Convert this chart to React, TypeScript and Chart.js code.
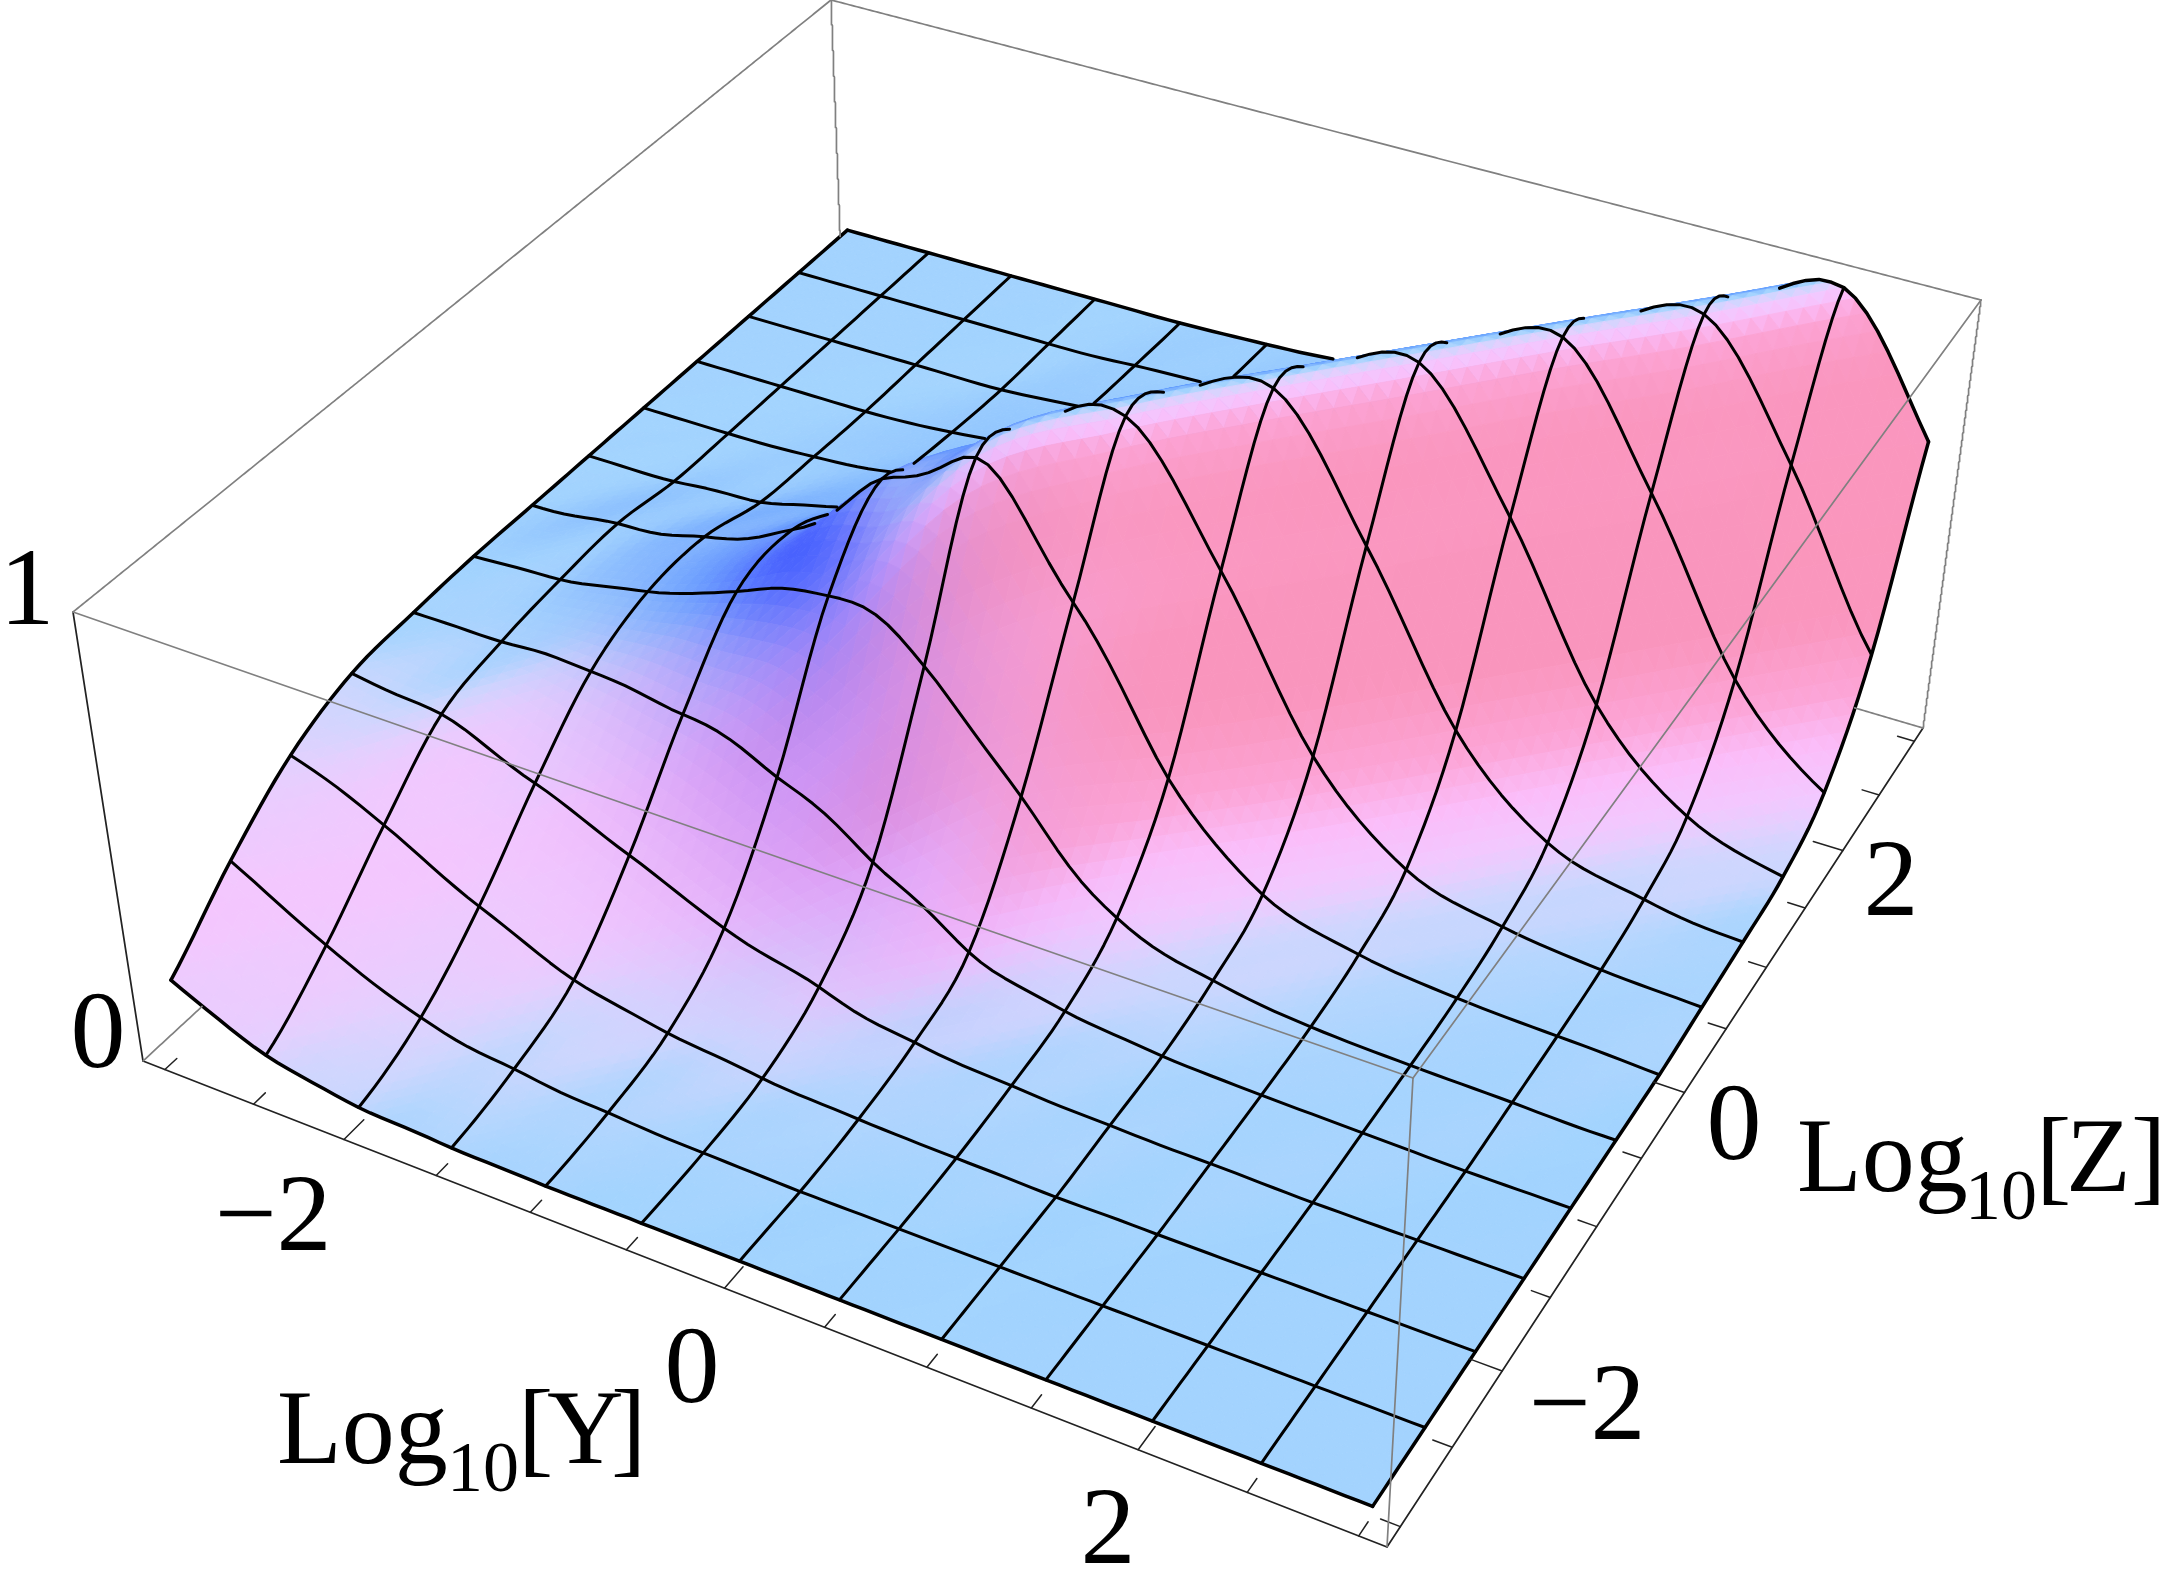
import React, { useEffect, useRef } from "react";
import { Chart, registerables } from "chart.js";

Chart.register(...registerables);

// Surface height: one array per Log10[Z] grid line, Log10[Y] = -3 ... 3 by 0.5
const heightZm30 = [0.15, 0.055, 0.015, 0.004, 0, 0, 0, 0, 0, 0, 0, 0, 0];
const heightZm25 = [0.285, 0.165, 0.075, 0.035, 0.015, 0.005, 0, 0, 0, 0, 0, 0, 0];
const heightZm20 = [0.395, 0.305, 0.19, 0.095, 0.05, 0.025, 0.012, 0.005, 0, 0, 0, 0, 0];
const heightZm15 = [0.455, 0.43, 0.34, 0.245, 0.15, 0.09, 0.04, 0.02, 0.01, 0.005, 0, 0, 0];
const heightZm10 = [0.47, 0.47, 0.47, 0.44, 0.365, 0.24, 0.105, 0.045, 0.02, 0.01, 0.005, 0, 0];
const heightZm05 = [0.478, 0.49, 0.53, 0.6, 0.66, 0.565, 0.33, 0.12, 0.05, 0.02, 0.01, 0.005, 0];
const heightZ00 = [0.478, 0.5, 0.535, 0.62, 0.81, 0.93, 0.655, 0.31, 0.11, 0.045, 0.02, 0.01, 0];
const heightZ05 = [0.478, 0.48, 0.495, 0.55, 0.69, 0.87, 0.97, 0.67, 0.3, 0.105, 0.045, 0.02, 0.01];
const heightZ10 = [0.478, 0.478, 0.485, 0.51, 0.585, 0.715, 0.9, 0.98, 0.67, 0.3, 0.105, 0.045, 0.02];
const heightZ15 = [0.478, 0.478, 0.478, 0.49, 0.52, 0.585, 0.725, 0.9, 0.985, 0.68, 0.3, 0.105, 0.035];
const heightZ20 = [0.478, 0.478, 0.478, 0.478, 0.495, 0.52, 0.585, 0.725, 0.9, 0.99, 0.68, 0.3, 0.1];
const heightZ25 = [0.478, 0.478, 0.478, 0.478, 0.485, 0.495, 0.52, 0.585, 0.725, 0.9, 0.99, 0.69, 0.3];
const heightZ30 = [0.478, 0.478, 0.478, 0.478, 0.478, 0.485, 0.5, 0.52, 0.585, 0.725, 0.9, 1.0, 0.69];
const heightRows = [heightZm30, heightZm25, heightZm20, heightZm15, heightZm10, heightZm05, heightZ00, heightZ05, heightZ10, heightZ15, heightZ20, heightZ25, heightZ30];

const axisTicks = [-3, -2.5, -2, -1.5, -1, -0.5, 0, 0.5, 1, 1.5, 2, 2.5, 3];
const majorTicks = [-2, 0, 2];

const W = 2167;
const H = 1583;
const N = 12;
const S = 8;
const F = N * S + 1;

type P = [number, number];
const homography = (p00: P, p10: P, p11: P, p01: P) => {
  const dx1 = p10[0] - p11[0], dx2 = p01[0] - p11[0], sx = p00[0] - p10[0] + p11[0] - p01[0];
  const dy1 = p10[1] - p11[1], dy2 = p01[1] - p11[1], sy = p00[1] - p10[1] + p11[1] - p01[1];
  const det = dx1 * dy2 - dx2 * dy1;
  const g = (sx * dy2 - dx2 * sy) / det;
  const h = (dx1 * sy - sx * dy1) / det;
  const a = p10[0] - p00[0] + g * p10[0], b = p01[0] - p00[0] + h * p01[0], c = p00[0];
  const d = p10[1] - p00[1] + g * p10[1], e = p01[1] - p00[1] + h * p01[1], f = p00[1];
  return (u: number, v: number): P => {
    const q = g * u + h * v + 1;
    return [(a * u + b * v + c) / q, (d * u + e * v + f) / q];
  };
};
const floorMap = homography([143, 1061], [1387, 1547], [1923, 728], [847, 411]);
const roofMap = homography([73, 612], [1413, 1078], [1981, 300], [831, 0]);
const boxPoint = (u: number, v: number, w: number): P => {
  const a = floorMap(u, v), b = roofMap(u, v);
  return [a[0] + (b[0] - a[0]) * w, a[1] + (b[1] - a[1]) * w];
};
const pad = (t: number) => 0.02 + 0.96 * t;
const surfacePoint = (a: number, b: number, h: number) => boxPoint(pad(a / N), pad(b / N), pad(h));
const axisFrac = (t: number) => pad((t + 3) / 6);

const cr = (p0: number, p1: number, p2: number, p3: number, t: number) =>
  0.5 * (2 * p1 + (p2 - p0) * t + (2 * p0 - 5 * p1 + 4 * p2 - p3) * t * t + (3 * p1 - p0 - 3 * p2 + p3) * t * t * t);
// The ridge runs along the grid's diagonal, so the spline between grid lines follows the diagonals
const cell = (i0: number, j0: number) => {
  let i = i0, j = j0;
  const m = Math.max(-N, Math.min(N, j - i));
  j = i + m;
  while (i < 0 || j < 0) { i++; j++; }
  while (i > N || j > N) { i--; j--; }
  return heightRows[j][i];
};
const alongDiagonal = (m: number, a: number) => {
  const i0 = Math.min(N - 1, Math.floor(a));
  return cr(cell(i0 - 1, i0 - 1 + m), cell(i0, i0 + m), cell(i0 + 1, i0 + 1 + m), cell(i0 + 2, i0 + 2 + m), a - i0);
};
const surfaceHeight = (a: number, b: number) => {
  const n = b - a;
  const m0 = Math.floor(n);
  const f = n - m0;
  return cr(alongDiagonal(m0 - 1, a), alongDiagonal(m0, a), alongDiagonal(m0 + 1, a), alongDiagonal(m0 + 2, a), f);
};
const fineH: number[][] = [];
for (let fj = 0; fj < F; fj++) {
  const row: number[] = [];
  for (let fi = 0; fi < F; fi++) row.push(Math.max(0, Math.min(1.005, surfaceHeight(fi / S, fj / S))));
  fineH.push(row);
}
const fineP: P[][] = fineH.map((row, fj) => row.map((h, fi) => surfacePoint(fi / S, fj / S, h)));

const stops: [number, number[]][] = [
  [0, [163, 212, 255]], [0.035, [178, 214, 255]], [0.085, [205, 215, 255]], [0.17, [228, 208, 255]],
  [0.26, [243, 200, 255]], [0.36, [251, 190, 250]], [0.5, [253, 165, 215]], [0.75, [250, 150, 190]], [1.2, [250, 150, 185]],
];
const mix = (a: number[], b: number[], t: number) => a.map((v, k) => v + (b[k] - v) * t);
const rampColor = (p: number) => {
  if (p < 0) return mix(stops[0][1], [90, 150, 255], Math.min(1, -p * 5));
  for (let k = 1; k < stops.length; k++) {
    if (p <= stops[k][0]) return mix(stops[k - 1][1], stops[k][1], (p - stops[k - 1][0]) / (stops[k][0] - stops[k - 1][0]));
  }
  return stops[stops.length - 1][1];
};
const blob = (a: number, b: number, ca: number, cb: number, ra: number, rb: number) =>
  Math.exp(-(((a - ca) / ra) ** 2 + ((b - cb) / rb) ** 2));
const clampGrid = (t: number) => Math.max(0, Math.min(N, t));
const surfaceColor = (a: number, b: number) => {
  const e = 0.2;
  const gy = (surfaceHeight(clampGrid(a + e), b) - surfaceHeight(clampGrid(a - e), b)) / (clampGrid(a + e) - clampGrid(a - e));
  const gz = (surfaceHeight(a, clampGrid(b + e)) - surfaceHeight(a, clampGrid(b - e))) / (clampGrid(b + e) - clampGrid(b - e));
  let c = rampColor(gz - gy);
  c = mix(c, [185, 125, 240], 0.7 * blob(a, b, 4.0, 4.5, 1.7, 1.4));
  c = mix(c, [110, 170, 255], 0.85 * blob(a, b, 2.7, 5.2, 1.1, 0.9));
  c = mix(c, [70, 95, 255], 0.95 * blob(a, b, 3.5, 5.3, 0.8, 0.65));
  return `rgb(${c[0] | 0},${c[1] | 0},${c[2] | 0})`;
};

// Which facet is on top at each pixel, so lines behind the ridge can be left out
const idBuf = new Int32Array(W * H).fill(-1);
const rasterTri = (a: P, b: P, c: P, id: number) => {
  const minX = Math.max(0, Math.floor(Math.min(a[0], b[0], c[0])));
  const maxX = Math.min(W - 1, Math.ceil(Math.max(a[0], b[0], c[0])));
  const minY = Math.max(0, Math.floor(Math.min(a[1], b[1], c[1])));
  const maxY = Math.min(H - 1, Math.ceil(Math.max(a[1], b[1], c[1])));
  const area = (b[0] - a[0]) * (c[1] - a[1]) - (b[1] - a[1]) * (c[0] - a[0]);
  if (Math.abs(area) < 1e-6) return;
  const sg = area > 0 ? 1 : -1;
  for (let y = minY; y <= maxY; y++) {
    for (let x = minX; x <= maxX; x++) {
      const e0 = ((b[0] - a[0]) * (y - a[1]) - (b[1] - a[1]) * (x - a[0])) * sg;
      const e1 = ((c[0] - b[0]) * (y - b[1]) - (c[1] - b[1]) * (x - b[0])) * sg;
      const e2 = ((a[0] - c[0]) * (y - c[1]) - (a[1] - c[1]) * (x - c[0])) * sg;
      if (e0 >= 0 && e1 >= 0 && e2 >= 0) idBuf[y * W + x] = id;
    }
  }
};
type Facet = { a: P; b: P; c: P; color: string };
const facets: Facet[] = [];
for (let fj = F - 2; fj >= 0; fj--) {
  for (let fi = 0; fi < F - 1; fi++) {
    const id = fj * 1000 + fi;
    const p00 = fineP[fj][fi], p10 = fineP[fj][fi + 1], p11 = fineP[fj + 1][fi + 1], p01 = fineP[fj + 1][fi];
    facets.push({ a: p00, b: p11, c: p01, color: surfaceColor((fi + 1 / 3) / S, (fj + 2 / 3) / S) });
    rasterTri(p00, p11, p01, id);
    facets.push({ a: p00, b: p10, c: p11, color: surfaceColor((fi + 2 / 3) / S, (fj + 1 / 3) / S) });
    rasterTri(p00, p10, p11, id);
  }
}
const idAt = (x: number, y: number) => {
  const px = Math.round(x), py = Math.round(y);
  if (px < 0 || py < 0 || px >= W || py >= H) return -1;
  return idBuf[py * W + px];
};
const meshVisible = (fi: number, fj: number, p: P) => {
  let any = false;
  for (const [dx, dy] of [[0, 0], [2, 0], [-2, 0], [0, 2], [0, -2]]) {
    const id = idAt(p[0] + dx, p[1] + dy);
    if (id < 0) continue;
    any = true;
    const qj = Math.floor(id / 1000), qi = id - qj * 1000;
    if (Math.abs(qi - fi) <= 2 && Math.abs(qj - fj) <= 2) return true;
  }
  return !any;
};

type XY = { x: number | null; y: number | null };
const lineSet = (data: XY[], color: string, width: number) => ({
  data, borderColor: color, borderWidth: width, showLine: true, pointRadius: 0, tension: 0,
  fill: false, spanGaps: false, borderCapStyle: "round" as const, borderJoinStyle: "round" as const,
});
const meshLine = (pts: { fi: number; fj: number }[]): XY[] =>
  pts.map(({ fi, fj }) => {
    const p = fineP[fj][fi];
    return meshVisible(fi, fj, p) ? { x: p[0], y: p[1] } : { x: null, y: null };
  });
const GREY = "#808080";
const edge = (a: number[], b: number[], clip: boolean): XY[] => {
  const out: XY[] = [];
  const n = clip ? 400 : 1;
  for (let k = 0; k <= n; k++) {
    const t = k / n;
    const p = boxPoint(a[0] + (b[0] - a[0]) * t, a[1] + (b[1] - a[1]) * t, a[2] + (b[2] - a[2]) * t);
    const hidden = clip && idAt(p[0], p[1]) >= 0;
    out.push(hidden ? { x: null, y: null } : { x: p[0], y: p[1] });
  }
  return out;
};

const buildDatasets = () => {
  const sets: any[] = [];
  sets.push(lineSet(edge([0, 0, 1], [1, 0, 1], false), GREY, 1.7));
  sets.push(lineSet(edge([1, 0, 1], [1, 1, 1], false), GREY, 1.7));
  sets.push(lineSet(edge([1, 0, 0], [1, 0, 1], false), GREY, 1.7));
  sets.push(lineSet(edge([0, 0, 1], [0, 1, 1], true), GREY, 1.7));
  sets.push(lineSet(edge([0, 1, 1], [1, 1, 1], true), GREY, 1.7));
  sets.push(lineSet(edge([0, 1, 0], [0, 1, 1], true), GREY, 1.7));
  sets.push(lineSet(edge([1, 1, 0], [1, 1, 1], true), GREY, 1.7));
  sets.push(lineSet(edge([0, 0, 0], [0, 1, 0], true), GREY, 1.7));
  sets.push(lineSet(edge([0, 1, 0], [1, 1, 0], true), GREY, 1.7));
  sets.push(lineSet(edge([0, 0, 0], [0, 0, 1], false), "#222", 1.7));
  sets.push(lineSet(edge([0, 0, 0], [1, 0, 0], false), "#222", 1.7));
  sets.push(lineSet(edge([1, 0, 0], [1, 1, 0], false), "#222", 1.7));
  for (const t of axisTicks) {
    const len = majorTicks.includes(t) ? 0.024 : 0.014;
    const f = axisFrac(t);
    sets.push(lineSet(edge([f, 0, 0], [f, len, 0], false), "#222", 1.5));
    sets.push(lineSet(edge([1, f, 0], [1 - len, f, 0], false), "#222", 1.5));
  }
  for (let i = 0; i <= N; i++) {
    const pts = [];
    for (let fj = 0; fj < F; fj++) pts.push({ fi: i * S, fj });
    sets.push(lineSet(meshLine(pts), "#000", i === 0 || i === N ? 3.5 : 3));
  }
  for (let j = 0; j <= N; j++) {
    const pts = [];
    for (let fi = 0; fi < F; fi++) pts.push({ fi, fj: j * S });
    sets.push(lineSet(meshLine(pts), "#000", j === 0 || j === N ? 3.5 : 3));
  }
  return sets;
};

const surfacePlugin = {
  id: "surface",
  beforeDatasetsDraw(chart: any) {
    const { ctx, scales } = chart;
    const sx = (v: number) => scales.x.getPixelForValue(v);
    const sy = (v: number) => scales.y.getPixelForValue(v);
    ctx.save();
    ctx.lineWidth = 0.9;
    ctx.lineJoin = "round";
    for (const q of facets) {
      ctx.beginPath();
      ctx.moveTo(sx(q.a[0]), sy(q.a[1]));
      ctx.lineTo(sx(q.b[0]), sy(q.b[1]));
      ctx.lineTo(sx(q.c[0]), sy(q.c[1]));
      ctx.closePath();
      ctx.fillStyle = q.color;
      ctx.strokeStyle = q.color;
      ctx.fill();
      ctx.stroke();
    }
    ctx.restore();
  },
  afterDraw(chart: any) {
    const { ctx, scales } = chart;
    const sx = (v: number) => scales.x.getPixelForValue(v);
    const sy = (v: number) => scales.y.getPixelForValue(v);
    const text = (s: string, x: number, y: number, size: number, align: CanvasTextAlign = "left") => {
      ctx.font = `${size}px "Liberation Serif"`;
      ctx.textAlign = align;
      ctx.textBaseline = "alphabetic";
      ctx.fillStyle = "#000";
      ctx.fillText(s, sx(x), sy(y));
    };
    ctx.save();
    text("1", 27, 624, 110, "center");
    text("0", 98, 1067, 110, "center");
    text("\u22122", 273, 1250, 110, "center");
    text("0", 692, 1402, 110, "center");
    text("2", 1108, 1563, 110, "center");
    text("\u22122", 1587, 1439, 110, "center");
    text("0", 1734, 1159, 110, "center");
    text("2", 1891, 915, 110, "center");
    text("Log", 277, 1463, 106);
    text("10", 447, 1491, 72);
    text("[", 518, 1463, 106);
    text("Y", 547, 1463, 106);
    text("]", 611, 1463, 106);
    text("Log", 1797, 1191, 106);
    text("10", 1965, 1219, 72);
    text("[", 2036, 1191, 106);
    text("Z", 2066, 1191, 106);
    text("]", 2131, 1191, 106);
    ctx.restore();
  },
};

export default function App() {
  const ref = useRef<HTMLCanvasElement | null>(null);
  useEffect(() => {
    const chart = new Chart(ref.current as HTMLCanvasElement, {
      type: "scatter",
      data: { datasets: buildDatasets() },
      options: {
        animation: false,
        responsive: false,
        maintainAspectRatio: false,
        layout: { padding: 0 },
        plugins: { legend: { display: false }, tooltip: { enabled: false } },
        scales: {
          x: { type: "linear", min: 0, max: W, display: false },
          y: { type: "linear", min: 0, max: H, reverse: true, display: false },
        },
      },
      plugins: [surfacePlugin],
    } as any);
    return () => chart.destroy();
  }, []);
  return (
    <canvas
      ref={ref}
      width={W}
      height={H}
      style={{ position: "absolute", left: 0, top: 0, width: W, height: H, display: "block" }}
    />
  );
}
